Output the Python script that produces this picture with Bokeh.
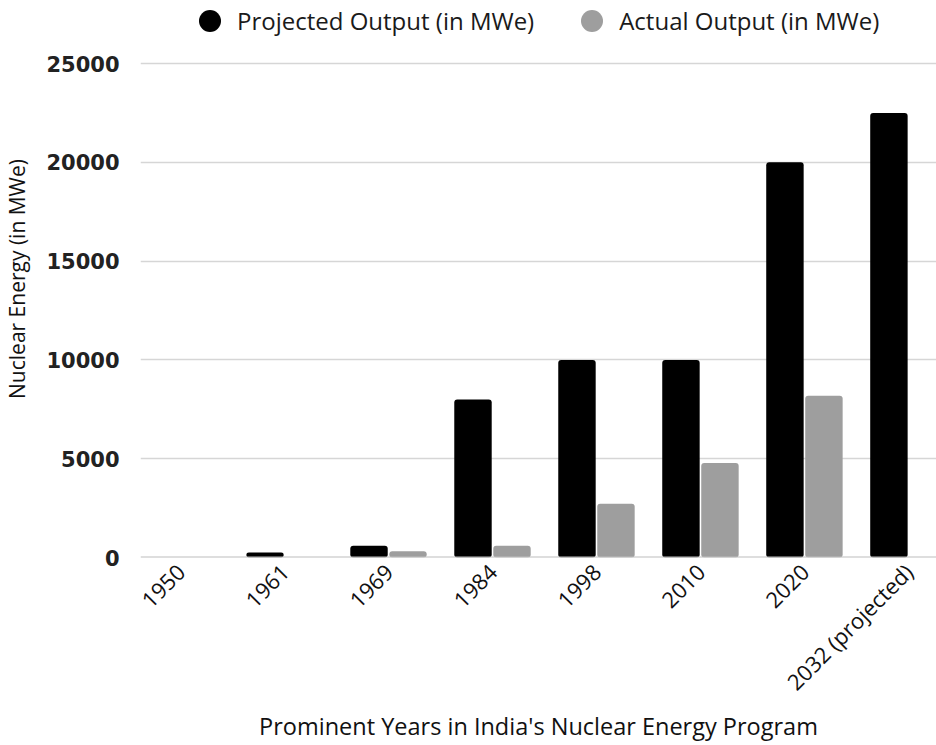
import math
from bokeh.plotting import figure
from bokeh.models import (Range1d, FixedTicker, Legend, LegendItem, ColumnDataSource, Span)
from bokeh.transform import dodge
from bokeh.embed import file_html
from bokeh.resources import INLINE

years = ["1950", "1961", "1969", "1984", "1998", "2010", "2020", "2032 (projected)"]
projected = [0, 250, 600, 8000, 10000, 10000, 20000, 22500]
actual = [0, 0, 320, 600, 2720, 4780, 8180, 0]
y_ticks = [0, 5000, 10000, 15000, 20000, 25000]

FONT = "Open Sans"
BLACK = "#000000"
GREY = "#9e9e9e"

pos = [i + 0.5 for i in range(len(years))]
src = ColumnDataSource(dict(x=pos, years=years, projected=projected, actual=actual))

# frame spans from the very top so the legend (drawn inside the frame) is not clipped;
# the value axis still only shows ticks 0..25000
y_top = 25000 * 557 / 494

p = figure(width=936, height=745, output_backend="svg", toolbar_location=None,
           x_range=Range1d(0.115, 7.77), y_range=Range1d(0, y_top),
           min_border_left=140, min_border_right=0, min_border_top=0,
           min_border_bottom=188, outline_line_color=None)

r1 = p.vbar(x=dodge("x", -0.1875, range=p.x_range), top="projected", width=0.36, source=src,
            fill_color=BLACK, line_color=None, border_radius=3)
r2 = p.vbar(x=dodge("x", 0.1875, range=p.x_range), top="actual", width=0.36, source=src,
            fill_color=GREY, line_color=None, border_radius=3)

p.add_layout(Span(location=0, dimension="width", line_color="#bdbdbd", line_width=2))

# legend proxies (a single non-plotted point each, used only for the legend swatch)
d1 = p.scatter(x=[math.nan], y=[math.nan], marker="circle", fill_color=BLACK, line_color=None)
d2 = p.scatter(x=[math.nan], y=[math.nan], marker="circle", fill_color=GREY, line_color=None)

legend = Legend(items=[LegendItem(label="Projected Output (in MWe)", renderers=[d1]),
                       LegendItem(label="Actual Output (in MWe)", renderers=[d2])],
                orientation="horizontal", location=(42, 509), padding=0, margin=0,
                glyph_width=55, glyph_height=55, label_standoff=0, spacing=30,
                border_line_alpha=0, background_fill_alpha=0,
                label_text_font=FONT, label_text_font_size="24px", label_text_color="#1a1a1a")
p.add_layout(legend)

p.xaxis.ticker = FixedTicker(ticks=pos)
p.xaxis.major_label_overrides = {x: y for x, y in zip(pos, years)}
p.xaxis.major_label_orientation = math.pi / 4
p.xaxis.axis_line_color = None
p.xaxis.major_tick_line_color = None
p.xaxis.minor_tick_line_color = None
p.xaxis.major_label_text_font = FONT
p.xaxis.major_label_text_font_size = "22px"
p.xaxis.major_label_text_color = "#111111"
p.xaxis.major_label_standoff = 4
p.xaxis.axis_label = "Prominent Years in India's Nuclear Energy Program"
p.xaxis.axis_label_text_font = FONT
p.xaxis.axis_label_text_font_style = "normal"
p.xaxis.axis_label_text_font_size = "23.5px"
p.xaxis.axis_label_text_color = "#111111"
p.xaxis.axis_label_standoff = 0
p.xgrid.grid_line_color = None

p.yaxis.ticker = FixedTicker(ticks=y_ticks)
p.yaxis.axis_line_color = None
p.yaxis.major_tick_line_color = None
p.yaxis.minor_tick_line_color = None
p.yaxis.major_label_text_font = "DejaVu Sans"
p.yaxis.major_label_text_font_size = "21px"
p.yaxis.major_label_text_font_style = "bold"
p.yaxis.major_label_text_color = "#222222"
p.yaxis.major_label_standoff = 15
p.yaxis.axis_label = "Nuclear Energy (in MWe)"
p.yaxis.axis_label_text_font = FONT
p.yaxis.axis_label_text_font_style = "normal"
p.yaxis.axis_label_text_font_size = "21px"
p.yaxis.axis_label_text_color = "#111111"
p.yaxis.axis_label_standoff = 12
p.ygrid.grid_line_color = "#d6d6d6"
p.ygrid.grid_line_width = 1.5

open("out.html", "w").write(file_html(p, INLINE))
